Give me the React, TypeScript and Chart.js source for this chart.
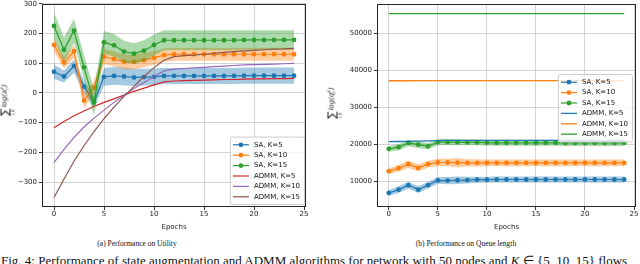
import React, { useEffect, useRef } from "react";
import { Chart, registerables } from "chart.js";
Chart.register(...registerables);

const epochs = [0, 1, 2, 3, 4, 5, 6, 7, 8, 9, 10, 11, 12, 13, 14, 15, 16, 17, 18, 19, 20, 21, 22, 23, 24];
const epochTicks = [0, 5, 10, 15, 20, 25];
const utilTicks = [-300, -200, -100, 0, 100, 200, 300];
const queueTicks = [10000, 20000, 30000, 40000, 50000];

// (a) Utility
const utilSaK5 = [71, 55, 90, 21, -31, 54, 57, 55, 52, 53, 54, 57, 57, 57, 57, 57, 57, 57, 57, 58, 58, 58, 58, 58, 58];
const utilSaK5Std = [24, 20, 22, 22, 18, 30, 30, 30, 29, 28, 28, 27, 27, 27, 27, 27, 27, 27, 27, 27, 27, 27, 27, 27, 27];
const utilSaK10 = [161, 102, 140, -26, 18, 122, 114, 105, 104, 110, 118, 127, 130, 130, 130, 130, 130, 130, 130, 130, 130, 130, 130, 130, 130];
const utilSaK10Std = [22, 20, 22, 25, 22, 25, 25, 25, 25, 24, 23, 22, 22, 22, 22, 22, 22, 22, 22, 22, 22, 22, 22, 22, 22];
const utilSaK15 = [225, 145, 209, 86, -32, 170, 160, 139, 132, 142, 161, 177, 177, 177, 177, 177, 177, 177, 177, 178, 178, 178, 178, 178, 178];
const utilSaK15Std = [45, 42, 40, 40, 45, 38, 38, 36, 35, 35, 35, 34, 34, 34, 34, 34, 34, 34, 34, 33, 33, 33, 33, 33, 33];
const utilAdmmK5 = [-117, -96, -77, -61, -46, -32, -20, -7, 5, 16, 27, 37, 40, 41, 42, 43, 44, 45, 45, 46, 47, 47, 48, 48, 49];
const utilAdmmK10 = [-235, -190, -150, -115, -85, -58, -32, -8, 15, 35, 55, 74, 80, 82, 84, 86, 88, 90, 92, 94, 95, 96, 97, 98, 99];
const utilAdmmK15 = [-352, -290, -230, -178, -130, -87, -48, -12, 22, 55, 85, 110, 122, 125, 127, 130, 133, 136, 139, 141, 143, 145, 147, 148, 150];

// (b) Queue length
const queueSaK5 = [6800, 7700, 8900, 7700, 8900, 10200, 10150, 10250, 10300, 10400, 10400, 10450, 10450, 10450, 10450, 10450, 10450, 10450, 10450, 10450, 10450, 10450, 10450, 10450, 10450];
const queueSaK5Std = [800, 900, 900, 900, 900, 900, 1000, 1000, 900, 800, 800, 800, 800, 800, 800, 800, 800, 800, 800, 800, 800, 800, 800, 800, 800];
const queueSaK10 = [12700, 13500, 14600, 13600, 14600, 15050, 15050, 15000, 14950, 14950, 14950, 14950, 14950, 14950, 14950, 14950, 14950, 14950, 14950, 14950, 14950, 14950, 14950, 14950, 14950];
const queueSaK10Std = [800, 900, 1000, 1000, 900, 1000, 1000, 1300, 1000, 1000, 900, 900, 900, 900, 900, 900, 900, 900, 900, 900, 900, 900, 900, 900, 900];
const queueSaK15 = [18750, 19200, 20350, 19900, 19450, 20600, 20600, 20550, 20500, 20500, 20450, 20400, 20400, 20400, 20400, 20400, 20400, 20400, 20350, 20350, 20350, 20350, 20350, 20350, 20350];
const queueSaK15Std = [800, 800, 900, 900, 800, 900, 800, 800, 800, 800, 800, 800, 800, 800, 800, 800, 800, 800, 800, 800, 800, 800, 800, 800, 800];
const queueAdmmK5 = [20700, 20750, 20800, 20850, 20900, 21000, 21050, 21050, 21050, 21050, 21050, 21050, 21050, 21050, 21050, 21050, 21050, 21050, 21050, 21050, 21050, 21050, 21050, 21050, 21050];
const queueAdmmK10 = [37200, 37200, 37200, 37220, 37220, 37240, 37240, 37250, 37250, 37250, 37250, 37250, 37250, 37250, 37250, 37250, 37250, 37250, 37250, 37250, 37250, 37250, 37250, 37250, 37250];
const queueAdmmK15 = [55400, 55400, 55400, 55400, 55400, 55400, 55400, 55400, 55400, 55400, 55400, 55400, 55400, 55400, 55400, 55400, 55400, 55400, 55400, 55400, 55400, 55400, 55400, 55400, 55400];

const seriesLabels = ["SA, K=5", "SA, K=10", "SA, K=15", "ADMM, K=5", "ADMM, K=10", "ADMM, K=15"];

const C = {
  blue: "#1f77b4",
  orange: "#ff7f0e",
  green: "#2ca02c",
  red: "#d62728",
  purple: "#9467bd",
  brown: "#8c564b",
};

const FONT = "'DejaVu Sans', sans-serif";

function rgba(hex: string, a: number) {
  const n = parseInt(hex.slice(1), 16);
  return `rgba(${(n >> 16) & 255},${(n >> 8) & 255},${n & 255},${a})`;
}

type Series = { label: string; color: string; mean: number[]; std?: number[]; marker: boolean; lw: number };

function buildDatasets(series: Series[]) {
  const ds: any[] = [];
  let order = 100;
  series.forEach((s) => {
    if (s.std) {
      ds.push({
        data: epochs.map((x, i) => ({ x, y: s.mean[i] + s.std![i] })),
        borderWidth: 0,
        borderColor: "rgba(0,0,0,0)",
        pointRadius: 0,
        fill: false,
        order: order--,
      });
      ds.push({
        data: epochs.map((x, i) => ({ x, y: s.mean[i] - s.std![i] })),
        borderWidth: 0,
        borderColor: "rgba(0,0,0,0)",
        pointRadius: 0,
        fill: "-1",
        backgroundColor: rgba(s.color, 0.4),
        order: order--,
      });
    }
    ds.push({
      data: epochs.map((x, i) => ({ x, y: s.mean[i] })),
      borderColor: s.color,
      backgroundColor: s.color,
      borderWidth: s.lw,
      pointRadius: s.marker ? 2.4 : 0,
      pointBorderWidth: 0,
      pointBackgroundColor: s.color,
      fill: false,
      order: order--,
    });
  });
  return ds;
}

const boxLegend = {
  id: "boxLegend",
  afterDraw(chart: any, _args: any, opts: any) {
    const { ctx, chartArea } = chart;
    const items: Series[] = opts.items;
    ctx.save();
    ctx.font = `7px ${FONT}`;
    const textW = Math.max(...items.map((it) => ctx.measureText(it.label).width));
    const padL = 3, handle = 16, gap = 5, padR = 4, rowH = 10.4, padT = 2.5;
    const w = padL + handle + gap + textW + padR;
    const h = padT * 2 + rowH * items.length;
    const x = chartArea.right - opts.right - w;
    const y = opts.bottom != null ? chartArea.bottom - opts.bottom - h : chartArea.top + opts.top;
    ctx.fillStyle = "rgba(255,255,255,0.8)";
    ctx.strokeStyle = "#cccccc";
    ctx.lineWidth = 1;
    ctx.beginPath();
    if (ctx.roundRect) ctx.roundRect(x + 0.5, y + 0.5, w, h, 2);
    else ctx.rect(x + 0.5, y + 0.5, w, h);
    ctx.fill();
    ctx.stroke();
    items.forEach((it, i) => {
      const cy = y + padT + rowH * (i + 0.5) + 0.5;
      ctx.strokeStyle = it.color;
      ctx.lineWidth = it.lw;
      ctx.beginPath();
      ctx.moveTo(x + padL, cy);
      ctx.lineTo(x + padL + handle, cy);
      ctx.stroke();
      if (it.marker) {
        ctx.fillStyle = it.color;
        ctx.beginPath();
        ctx.arc(x + padL + handle / 2, cy, 2.4, 0, Math.PI * 2);
        ctx.fill();
      }
      ctx.fillStyle = "#111";
      ctx.textBaseline = "middle";
      ctx.textAlign = "left";
      ctx.fillText(it.label, x + padL + handle + gap, cy);
    });
    ctx.restore();
  },
};

const frameBox = {
  id: "frameBox",
  afterDatasetsDraw(chart: any) {
    const { ctx, chartArea } = chart;
    ctx.save();
    ctx.strokeStyle = "#262626";
    ctx.lineWidth = 1;
    const l = Math.round(chartArea.left) + 0.5;
    const t = Math.round(chartArea.top) + 0.5;
    const r = Math.round(chartArea.right) - 0.5;
    const b = Math.round(chartArea.bottom) - 0.5;
    ctx.strokeRect(l, t, r - l, b - t);
    ctx.restore();
  },
};

const tickFont = { family: FONT, size: 7, lineHeight: 1 };

function makeConfig(series: Series[], yMin: number, yMax: number, yTicks: number[], yWidth: number, padding: any, legendPos: any) {
  return {
    type: "line",
    data: { datasets: buildDatasets(series) },
    plugins: [frameBox, boxLegend],
    options: {
      animation: false,
      responsive: false,
      maintainAspectRatio: false,
      layout: { padding },
      plugins: {
        legend: { display: false },
        tooltip: { enabled: false },
        colors: { enabled: false },
        boxLegend: { items: series, ...legendPos },
      },
      elements: { line: { tension: 0 } },
      scales: {
        x: {
          type: "linear",
          min: -1.2,
          max: 25.2,
          afterBuildTicks: (s: any) => {
            s.ticks = epochTicks.map((v) => ({ value: v }));
          },
          afterFit: (s: any) => {
            s.height = 25;
            s.paddingLeft = 0;
            s.paddingRight = 0;
          },
          ticks: { font: tickFont, color: "#222", padding: 1, maxRotation: 0, autoSkip: false },
          grid: { color: "rgba(176,176,176,0.55)", lineWidth: 1, tickColor: "#333", tickLength: 3 },
          border: { display: false },
          title: { display: true, text: "Epochs", color: "#222", font: { family: FONT, size: 7, lineHeight: 1 }, padding: { top: 0, bottom: 1 } },
        },
        y: {
          type: "linear",
          min: yMin,
          max: yMax,
          afterBuildTicks: (s: any) => {
            s.ticks = yTicks.map((v) => ({ value: v }));
          },
          afterFit: (s: any) => {
            s.width = yWidth;
            s.paddingTop = 0;
            s.paddingBottom = 0;
          },
          ticks: {
            font: tickFont,
            color: "#222",
            padding: 2,
            callback: (v: any) => String(v).replace("-", "\u2212"),
          },
          grid: { color: "rgba(176,176,176,0.55)", lineWidth: 1, tickColor: "#333", tickLength: 3 },
          border: { display: false },
        },
      },
    },
  };
}

function ChartCanvas({ config, left, top, width, height }: any) {
  const ref = useRef<HTMLCanvasElement>(null);
  useEffect(() => {
    const chart = new Chart(ref.current as HTMLCanvasElement, config as any);
    return () => chart.destroy();
  }, []);
  return (
    <canvas
      ref={ref}
      width={width}
      height={height}
      style={{ position: "absolute", left, top, width, height }}
    />
  );
}

function YLabel({ v, x, y }: { v: string; x: number; y: number }) {
  return (
    <div
      style={{
        position: "absolute",
        left: x,
        top: y,
        transform: "translate(-50%,-50%) rotate(-90deg)",
        fontFamily: FONT,
        color: "#222",
        whiteSpace: "nowrap",
        display: "flex",
        alignItems: "center",
      }}
    >
      <span style={{ display: "inline-flex", flexDirection: "column", alignItems: "center", marginRight: 1 }}>
        <span style={{ fontSize: 11, lineHeight: "10px" }}>∑</span>
        <span style={{ fontSize: 4.5, lineHeight: "5px", fontStyle: "italic" }}>i,k</span>
      </span>
      <span style={{ fontSize: 7, fontStyle: "italic", position: "relative", top: -3 }}>
        log({v}
        <span style={{ display: "inline-flex", flexDirection: "column", fontSize: 4.5, lineHeight: "4.5px", verticalAlign: "middle" }}>
          <span>k</span>
          <span>i</span>
        </span>
        )
      </span>
    </div>
  );
}

export default function App() {
  const utilSeries: Series[] = [
    { label: seriesLabels[0], color: C.blue, mean: utilSaK5, std: utilSaK5Std, marker: true, lw: 1.2 },
    { label: seriesLabels[1], color: C.orange, mean: utilSaK10, std: utilSaK10Std, marker: true, lw: 1.2 },
    { label: seriesLabels[2], color: C.green, mean: utilSaK15, std: utilSaK15Std, marker: true, lw: 1.2 },
    { label: seriesLabels[3], color: C.red, mean: utilAdmmK5, marker: false, lw: 1.2 },
    { label: seriesLabels[4], color: C.purple, mean: utilAdmmK10, marker: false, lw: 1.2 },
    { label: seriesLabels[5], color: C.brown, mean: utilAdmmK15, marker: false, lw: 1.2 },
  ];
  const queueSeries: Series[] = [
    { label: seriesLabels[0], color: C.blue, mean: queueSaK5, std: queueSaK5Std, marker: true, lw: 1.2 },
    { label: seriesLabels[1], color: C.orange, mean: queueSaK10, std: queueSaK10Std, marker: true, lw: 1.2 },
    { label: seriesLabels[2], color: C.green, mean: queueSaK15, std: queueSaK15Std, marker: true, lw: 1.2 },
    { label: seriesLabels[3], color: C.blue, mean: queueAdmmK5, marker: false, lw: 1.3 },
    { label: seriesLabels[4], color: C.orange, mean: queueAdmmK10, marker: false, lw: 1.3 },
    { label: seriesLabels[5], color: C.green, mean: queueAdmmK15, marker: false, lw: 1.3 },
  ];
  const leftCfg = makeConfig(utilSeries, -384, 299, utilTicks, 42, { top: 3, right: 14, left: 0, bottom: 0 }, { right: 2, bottom: 3 });
  const rightCfg = makeConfig(queueSeries, 3000, 58000, queueTicks, 57, { top: 0, right: 2, left: 0, bottom: 0 }, { right: 4, top: 70 });

  const capStyle: any = { position: "absolute", top: 239, width: 200, textAlign: "center", fontFamily: "'Liberation Serif', serif", fontSize: 7.5, lineHeight: "10px", color: "#111" };

  return (
    <div style={{ position: "fixed", left: 0, top: 0, width: 640, height: 264, background: "#fff", overflow: "hidden" }}>
      <ChartCanvas config={leftCfg} left={0} top={0} width={320} height={232} />
      <ChartCanvas config={rightCfg} left={320} top={0} width={320} height={232} />
      <YLabel v="a" x={8} y={100} />
      <YLabel v="q" x={335} y={103} />
      <div style={{ ...capStyle, left: 37 }}>(a) Performance on Utility</div>
      <div style={{ ...capStyle, left: 366 }}>(b) Performance on Queue length</div>
      <div style={{ position: "absolute", left: 1, top: 254, whiteSpace: "nowrap", fontFamily: "'Liberation Serif', serif", fontSize: 13, lineHeight: "13px", color: "#111" }}>
        Fig. 4: Performance of state augmentation and ADMM algorithms for network with 50 nodes and <i>K</i> ∈ {"{"}5, 10, 15{"}"} flows
      </div>
    </div>
  );
}
